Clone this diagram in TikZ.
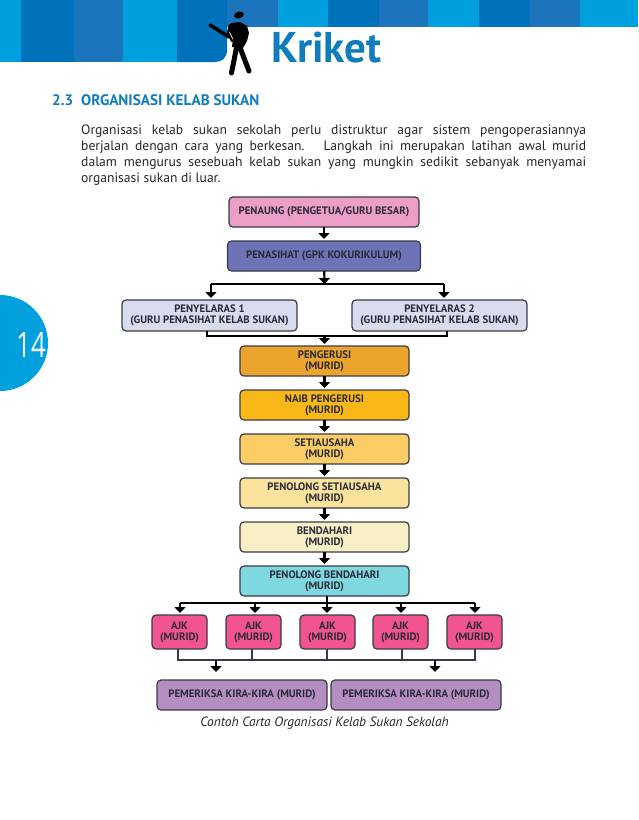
\documentclass[tikz,border=0pt]{standalone}
\usepackage{fontspec}
\usepackage{xcolor}
\usepackage{tikz}
\usetikzlibrary{arrows.meta,positioning,calc}
\setmainfont{PT Sans}
\newfontfamily\chipfont[FakeStretch=0.74]{Open Sans}
\definecolor{lightband}{HTML}{00A0DF}
\definecolor{darkband}{HTML}{0072BC}
\definecolor{midband}{HTML}{1C75BC}
\definecolor{headblue}{HTML}{0F7DBB}
\definecolor{inkline}{HTML}{3B3B48}
\definecolor{inktext}{HTML}{2B2B38}
\definecolor{rosefill}{HTML}{EC9FC6}
\definecolor{indigofill}{HTML}{6E73B8}
\definecolor{lilacfill}{HTML}{D9DBEF}
\definecolor{orangefill}{HTML}{EBA42C}
\definecolor{goldfill}{HTML}{F9B818}
\definecolor{sandfill}{HTML}{FBCD64}
\definecolor{creamfill}{HTML}{FBE39C}
\definecolor{palefill}{HTML}{F9EFC4}
\definecolor{aquafill}{HTML}{7FD8E0}
\definecolor{pinkfill}{HTML}{F1548F}
\definecolor{mauvefill}{HTML}{B48DC1}
\definecolor{chipwhite}{HTML}{F6FBFE}
\newcommand{\bodyline}[1]{\makebox[505pt][s]{#1}}
\tikzset{
  orgbox/.style={rectangle, rounded corners=4pt, draw=inkline, line width=1.2pt, inner sep=0pt, outer sep=0pt,
              align=center, font=\fontsize{10.8}{11.2}\selectfont\bfseries, text=inktext},
  midbox/.style={orgbox, minimum width=169pt, minimum height=30pt},
  topbox/.style={orgbox, minimum height=30pt},
  coordbox/.style={orgbox, fill=lilacfill, minimum width=175pt, minimum height=31pt},
  ajkbox/.style={orgbox, fill=pinkfill, minimum width=55pt, minimum height=34pt},
  checkbox/.style={orgbox, fill=mauvefill, minimum width=170pt, minimum height=30pt},
  flow/.style={-{Triangle[width=11pt,length=6pt]}, draw=black, line width=2.2pt, shorten >=2pt},
  busline/.style={draw=black, line width=1.8pt},
  thinbus/.style={draw=inkline, line width=1.5pt}
}

\begin{document}
\begin{tikzpicture}[x=1pt,y=-1pt]
 \useasboundingbox (0,0) rectangle (638,820);
 \fill[white] (0,0) rectangle (638,820);
 \fill[lightband] (0,0) rectangle (21,62);
 \fill[darkband] (21,0) rectangle (74,62);
 \fill[midband] (74,0) rectangle (123,62);
 \fill[lightband] (123,0) rectangle (177,62);
 \fill[darkband] (177,0) -- (227,0) -- (227,50) .. controls (227,58) and (222,62) .. (215,62) -- (177,62) -- cycle;
 \fill[midband] (227,0) rectangle (278,27);
 \fill[lightband] (278,0) rectangle (328,27);
 \fill[darkband] (328,0) rectangle (379,27);
 \fill[midband] (379,0) rectangle (428,27);
 \fill[lightband] (428,0) rectangle (479,27);
 \fill[darkband] (479,0) rectangle (530,27);
 \fill[midband] (530,0) rectangle (580,27);
 \fill[lightband] (580,0) rectangle (638,27);

 \fill[black, rotate around={15:(239,15)}] (239,15) ellipse (5pt and 3.4pt);
 \fill[black] (231,23) -- (240,22) -- (247,26) -- (249,33) -- (247,41) -- (243,48) -- (232,47) -- (233,38) -- (229,30) -- cycle;
 \draw[black, line width=3.6pt, line cap=round] (210,25) -- (229,37);
 \draw[black, line width=2.4pt, line cap=round] (230,25) -- (228,33) -- (232,41);
 \draw[black, line width=5pt, line cap=round] (237,45) -- (231.5,73);
 \draw[black, line width=5pt, line cap=round] (239,45) -- (249,71);

 \node[anchor=base west, font=\fontsize{43}{43}\selectfont\bfseries, text=headblue, inner sep=0pt] (title) at (271,62) {Kriket};
 \node[anchor=base west, font=\fontsize{15.2}{15}\selectfont\bfseries, text=headblue, inner sep=0pt] (heading) at (52,105) {2.3\hspace{8pt}ORGANISASI KELAB SUKAN};
 \node[anchor=north west, align=left, inner sep=0pt, font=\fontsize{13.6}{15.8}\selectfont, text=black!85] (intro) at (81,125) {%
   \bodyline{Organisasi kelab sukan sekolah perlu distruktur agar sistem pengoperasiannya}\\
   \bodyline{berjalan dengan cara yang berkesan.\hspace{6pt} Langkah ini merupakan latihan awal murid}\\
   \bodyline{dalam mengurus sesebuah kelab sukan yang mungkin sedikit sebanyak menyamai}\\
   organisasi sukan di luar.};

 \node[circle, fill=lightband, minimum size=96pt, inner sep=0pt] (chip) at (0,343) {};
 \node[anchor=center, font=\chipfont\fontsize{35}{35}\selectfont, text=chipwhite, inner sep=0pt] (chapter) at (31,345) {14};

 \node[topbox, fill=rosefill, minimum width=190pt] (penaung) at (324,212) {PENAUNG (PENGETUA/GURU BESAR)};
 \node[topbox, fill=indigofill, minimum width=193pt, below=14pt of penaung] (penasihat) {PENASIHAT (GPK KOKURIKULUM)};
 \node[coordbox] (penyelarasa) at (209.5,315.5) {PENYELARAS 1\\(GURU PENASIHAT KELAB SUKAN)};
 \node[coordbox] (penyelarasb) at (439.5,315.5) {PENYELARAS 2\\(GURU PENASIHAT KELAB SUKAN)};
 \node[midbox, fill=orangefill] (pengerusi) at (324.5,361) {PENGERUSI\\(MURID)};
 \node[midbox, fill=goldfill, below=14pt of pengerusi] (naib) {NAIB PENGERUSI\\(MURID)};
 \node[midbox, fill=sandfill, below=14pt of naib] (setiausaha) {SETIAUSAHA\\(MURID)};
 \node[midbox, fill=creamfill, below=14pt of setiausaha] (penolongs) {PENOLONG SETIAUSAHA\\(MURID)};
 \node[midbox, fill=palefill, below=14pt of penolongs] (bendahari) {BENDAHARI\\(MURID)};
 \node[midbox, fill=aquafill, below=14pt of bendahari] (penolongb) {PENOLONG BENDAHARI\\(MURID)};
 \node[ajkbox] (ajkc) at (327.5,632) {AJK\\(MURID)};
 \node[ajkbox, left=19pt of ajkc] (ajkb) {AJK\\(MURID)};
 \node[ajkbox, left=19pt of ajkb] (ajka) {AJK\\(MURID)};
 \node[ajkbox, right=18pt of ajkc] (ajkd) {AJK\\(MURID)};
 \node[ajkbox, right=19pt of ajkd] (ajke) {AJK\\(MURID)};
 \node[checkbox] (pemeriksaa) at (242,695) {PEMERIKSA KIRA-KIRA (MURID)};
 \node[checkbox] (pemeriksab) at (416,695) {PEMERIKSA KIRA-KIRA (MURID)};
 \node[font=\fontsize{13.4}{14}\selectfont\itshape, text=black!85, inner sep=0pt] (caption) at (324.5,723) {Contoh Carta Organisasi Kelab Sukan Sekolah};

 \coordinate (splitmid) at (324.5,284);
 \coordinate (splitleft) at (211,284);
 \coordinate (splitright) at (444,284);
 \coordinate (mergemid) at (324.5,336);
 \coordinate (mergeleft) at (207,336);
 \coordinate (mergeright) at (447,336);
 \coordinate (fanleft) at (180,603);
 \coordinate (fanb) at (255,603);
 \coordinate (fanmid) at (327,603);
 \coordinate (fand) at (401,603);
 \coordinate (fanright) at (475,603);
 \coordinate (joinleft) at (178,660);
 \coordinate (joinb) at (252,660);
 \coordinate (joinc) at (327,660);
 \coordinate (joind) at (402,660);
 \coordinate (joinright) at (475,660);
 \coordinate (dropa) at (216,660);
 \coordinate (dropb) at (435,660);

 \draw[flow] (penaung) -- (penasihat);
 \draw[flow, shorten >=0pt] (penasihat) -- (splitmid);
 \draw[busline] (splitleft) -- (splitright);
 \draw[flow] (splitleft) -- (splitleft |- penyelarasa.north);
 \draw[flow] (splitright) -- (splitright |- penyelarasb.north);
 \draw[busline] (mergeleft |- penyelarasa.south) -- (mergeleft) -- (mergeright) -- (mergeright |- penyelarasb.south);
 \draw[flow] (mergemid) -- (pengerusi);
 \draw[flow] (pengerusi) -- (naib);
 \draw[flow] (naib) -- (setiausaha);
 \draw[flow] (setiausaha) -- (penolongs);
 \draw[flow] (penolongs) -- (bendahari);
 \draw[flow] (bendahari) -- (penolongb);
 \draw[busline] (fanleft) -- (fanright);
 \draw[flow] (fanmid |- penolongb.south) -- (fanmid |- ajkc.north);
 \draw[flow] (fanleft) -- (fanleft |- ajka.north);
 \draw[flow] (fanb) -- (fanb |- ajkb.north);
 \draw[flow] (fand) -- (fand |- ajkd.north);
 \draw[flow] (fanright) -- (fanright |- ajke.north);
 \draw[thinbus] (joinleft |- ajka.south) -- (joinleft) -- (joinright) -- (joinright |- ajke.south);
 \draw[thinbus] (joinb |- ajkb.south) -- (joinb);
 \draw[thinbus] (joinc |- ajkc.south) -- (joinc);
 \draw[thinbus] (joind |- ajkd.south) -- (joind);
 \draw[flow, line width=1.8pt, shorten >=8pt] (dropa) -- (dropa |- pemeriksaa.north);
 \draw[flow, line width=1.8pt, shorten >=8pt] (dropb) -- (dropb |- pemeriksab.north);
\end{tikzpicture}
\end{document}
